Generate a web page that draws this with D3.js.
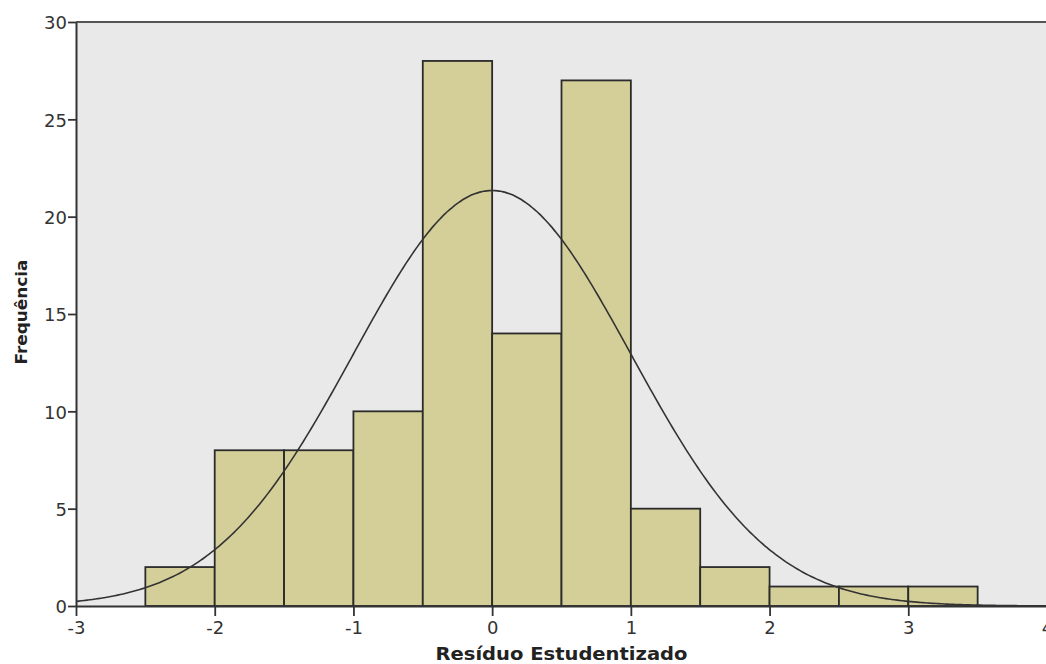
<!DOCTYPE html>
<html><head><meta charset="utf-8">
<script src="https://cdn.jsdelivr.net/npm/d3@7"></script>
<style>body{margin:0;background:#fff}svg{display:block}</style>
</head><body>
<script>
const binStarts = [-2.5,-2,-1.5,-1,-0.5,0,0.5,1,1.5,2,2.5,3];
const binWidth = 0.5;
const counts = [2,8,8,10,28,14,27,5,2,1,1,1];
const xTicks = [-3,-2,-1,0,1,2,3,4];
const yTicks = [0,5,10,15,20,25,30];
const curveMean = 0.0, curveSd = 1.0;
const xLabel = "Resíduo Estudentizado", yLabel = "Frequência";

const W = 1046, H = 664;
const svg = d3.select("body").append("svg").attr("width", W).attr("height", H);
const x = d3.scaleLinear().domain([-3,4]).range([76,1047]);
const y = d3.scaleLinear().domain([0,30]).range([606,22]);

svg.append("rect").attr("x",x(-3)).attr("y",y(30)).attr("width",x(4)-x(-3)).attr("height",y(0)-y(30)).attr("fill","#e9e9e9");

svg.selectAll("rect.bar").data(counts).join("rect").attr("class","bar")
  .attr("x",(d,i)=>x(binStarts[i])).attr("width",(d,i)=>x(binStarts[i]+binWidth)-x(binStarts[i]))
  .attr("y",d=>y(d)).attr("height",d=>y(0)-y(d))
  .attr("fill","#d4cf98").attr("stroke","#2b2b2b").attr("stroke-width",1.8);

const N = d3.sum(counts);
const pts = d3.range(-3,4.0001,0.02).map(v=>[v, N*binWidth*Math.exp(-0.5*((v-curveMean)/curveSd)**2)/(curveSd*Math.sqrt(2*Math.PI))]);
svg.append("path").datum(pts).attr("d",d3.line().x(d=>x(d[0])).y(d=>y(d[1])).curve(d3.curveBasis))
  .attr("fill","none").attr("stroke","#333").attr("stroke-width",1.6);

svg.append("line").attr("x1",x(-3)).attr("x2",W).attr("y1",y(30)).attr("y2",y(30)).attr("stroke","#555").attr("stroke-width",2);

const fmt = d => String(d);
const xa = svg.append("g").attr("transform",`translate(0,${y(0)})`)
  .call(d3.axisBottom(x).tickValues(xTicks).tickSize(10).tickSizeOuter(0).tickFormat(fmt));
const ya = svg.append("g").attr("transform",`translate(${x(-3)},0)`)
  .call(d3.axisLeft(y).tickValues(yTicks).tickSize(8).tickSizeOuter(0).tickFormat(fmt));
[xa,ya].forEach(a=>{
  a.select(".domain").attr("stroke","#333").attr("stroke-width",2);
  a.selectAll(".tick line").attr("stroke","#333").attr("stroke-width",1.8);
  a.selectAll(".tick text").attr("fill","#333").style("font-family","DejaVu Sans, sans-serif").style("font-size","18px");
});
xa.selectAll(".tick text").attr("y",14).attr("dy","0.75em");
ya.selectAll(".tick text").attr("x",-9).attr("dy","0.38em");

svg.append("text").attr("x",(x(-3)+x(4))/2).attr("y",660).attr("text-anchor","middle")
  .attr("textLength",252).attr("lengthAdjust","spacingAndGlyphs")
  .style("font-family","DejaVu Sans, sans-serif").style("font-weight","bold").style("font-size","17px").attr("fill","#222").text(xLabel);
svg.append("text").attr("transform",`translate(27,312) rotate(-90)`).attr("text-anchor","middle")
  .attr("textLength",105).attr("lengthAdjust","spacingAndGlyphs")
  .style("font-family","DejaVu Sans, sans-serif").style("font-weight","bold").style("font-size","16px").attr("fill","#222").text(yLabel);
</script>
</body></html>
